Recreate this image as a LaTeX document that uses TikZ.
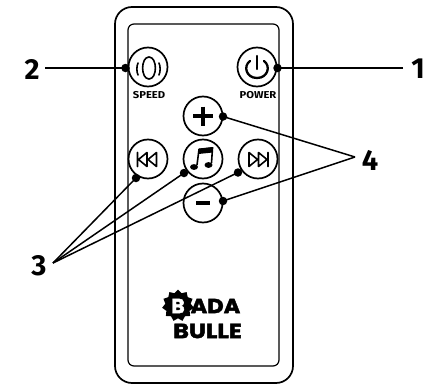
\documentclass[tikz,border=0pt]{standalone}
\usepackage{fontspec}
\setmainfont{Fira Sans}
\newfontfamily\logofont[FakeBold=2]{Poppins}
\usetikzlibrary{shapes.geometric}
\tikzset{
  x=1pt,y=-1pt,
  btn/.style={circle,draw=black,line width=1.7pt,minimum size=39pt,inner sep=0pt},
  dot/.style={circle,fill=black,inner sep=0pt,minimum size=8.5pt},
  lead/.style={line width=1.5pt,black},
  num/.style={font=\fontsize{29}{29}\selectfont\bfseries,inner sep=0pt},
  btnlabel/.style={font=\fontsize{10}{10}\selectfont\bfseries,inner sep=0pt,xscale=1.12},
  icon/.style={line width=1.6pt,black,line cap=round,line join=round},
  logo/.style={font=\logofont\fontsize{20.5}{21}\selectfont\bfseries,inner sep=0pt},
}
\begin{document}
\begin{tikzpicture}
\useasboundingbox (0,0) rectangle (434,388);
% casing
\draw[line width=1.7pt,rounded corners=17pt] (115,7) rectangle (293,383);
\draw[line width=1.2pt,rounded corners=6pt] (128,24) rectangle (279,366);
% buttons
\node[btn] (speed) at (148,67) {};
\node[btn] (power) at (257,67) {};
\node[btn] (plus) at (203,116) {};
\node[btn] (prev) at (148,159) {};
\node[btn] (music) at (203,159) {};
\node[btn] (next) at (258,159) {};
\node[btn] (minus) at (203,203) {};
\node[btnlabel] (speedlab) at (149,95.5) {SPEED};
\node[btnlabel] (powerlab) at (258,95.5) {POWER};
% speed icon
\draw[icon] (149,57) .. controls (157.5,57) and (157.5,79) .. (149,79) .. controls (140.5,79) and (140.5,57) .. (149,57) -- cycle;
\draw[icon] (138,63) .. controls (136.5,66) and (136.5,72) .. (138,75);
\draw[icon] (159,63) .. controls (160.5,66) and (160.5,72) .. (159,75);
% power icon
\draw[icon,line width=2.3pt] (250,61) .. controls (243,66) and (246,78) .. (257,78) .. controls (268,78) and (271,66) .. (264,61);
\draw[icon,line width=2.3pt] (257,56) -- (257,69);
% plus, minus
\draw[line width=3.4pt] (193,116) -- (213,116) (203,106.5) -- (203,125.5);
\draw[line width=3.2pt] (196,203) -- (210,203);
% prev
\draw[icon] (137.5,152.5) -- (137.5,166.5)
  (147,152.5) -- (138.5,159.5) -- (147,166.5) -- cycle
  (156.5,152.5) -- (148,159.5) -- (156.5,166.5) -- cycle;
% next
\draw[icon] (268,152.5) -- (268,166.5)
  (258.5,152.5) -- (267,159.5) -- (258.5,166.5) -- cycle
  (249,152.5) -- (257.5,159.5) -- (249,166.5) -- cycle;
% music
\draw[line width=1.6pt] (197,165) -- (199,149.5) -- (212.5,148) -- (211.5,163);
\fill (194,167) ellipse[x radius=4pt,y radius=2.9pt];
\fill (208.5,165) ellipse[x radius=4pt,y radius=2.9pt];
\fill (199,148.5) -- (213,147) -- (212.8,152.5) -- (198.4,154) -- cycle;
% logo
\node[star,star points=11,star point ratio=1.25,fill=black,minimum size=32pt,inner sep=0pt] (burst) at (178,305.5) {};
\node[logo,white] (logob) at (178,306) {B};
\node[logo,anchor=center,xscale=1.1] (ada) at (215.5,306) {ADA};
\node[logo,anchor=center,xscale=1.17] (bulle) at (207.5,331) {BULLE};
% labels
\node[num] (n1) at (418,69) {1};
\node[num] (n2) at (32,69) {2};
\node[num] (n3) at (39,266) {3};
\node[num] (n4) at (370,160) {4};
% anchors
\coordinate (a1) at (403,68);
\coordinate (a2) at (45,68);
\coordinate (a3) at (53,263);
\coordinate (a4) at (355,157);
\node[dot] (d1) at (277.5,68) {};
\node[dot] (d2) at (125.5,68) {};
\node[dot] (d3a) at (136,178) {};
\node[dot] (d3b) at (184,173) {};
\node[dot] (d3c) at (238,172.5) {};
\node[dot] (d4a) at (223,116.5) {};
\node[dot] (d4b) at (223,201) {};
\draw[lead] (a1) -- (d1.center);
\draw[lead] (a2) -- (d2.center);
\draw[lead] (a3) -- (d3a.center);
\draw[lead] (a3) -- (d3b.center);
\draw[lead] (a3) -- (d3c.center);
\draw[lead] (a4) -- (d4a.center);
\draw[lead] (a4) -- (d4b.center);
\end{tikzpicture}
\end{document}
